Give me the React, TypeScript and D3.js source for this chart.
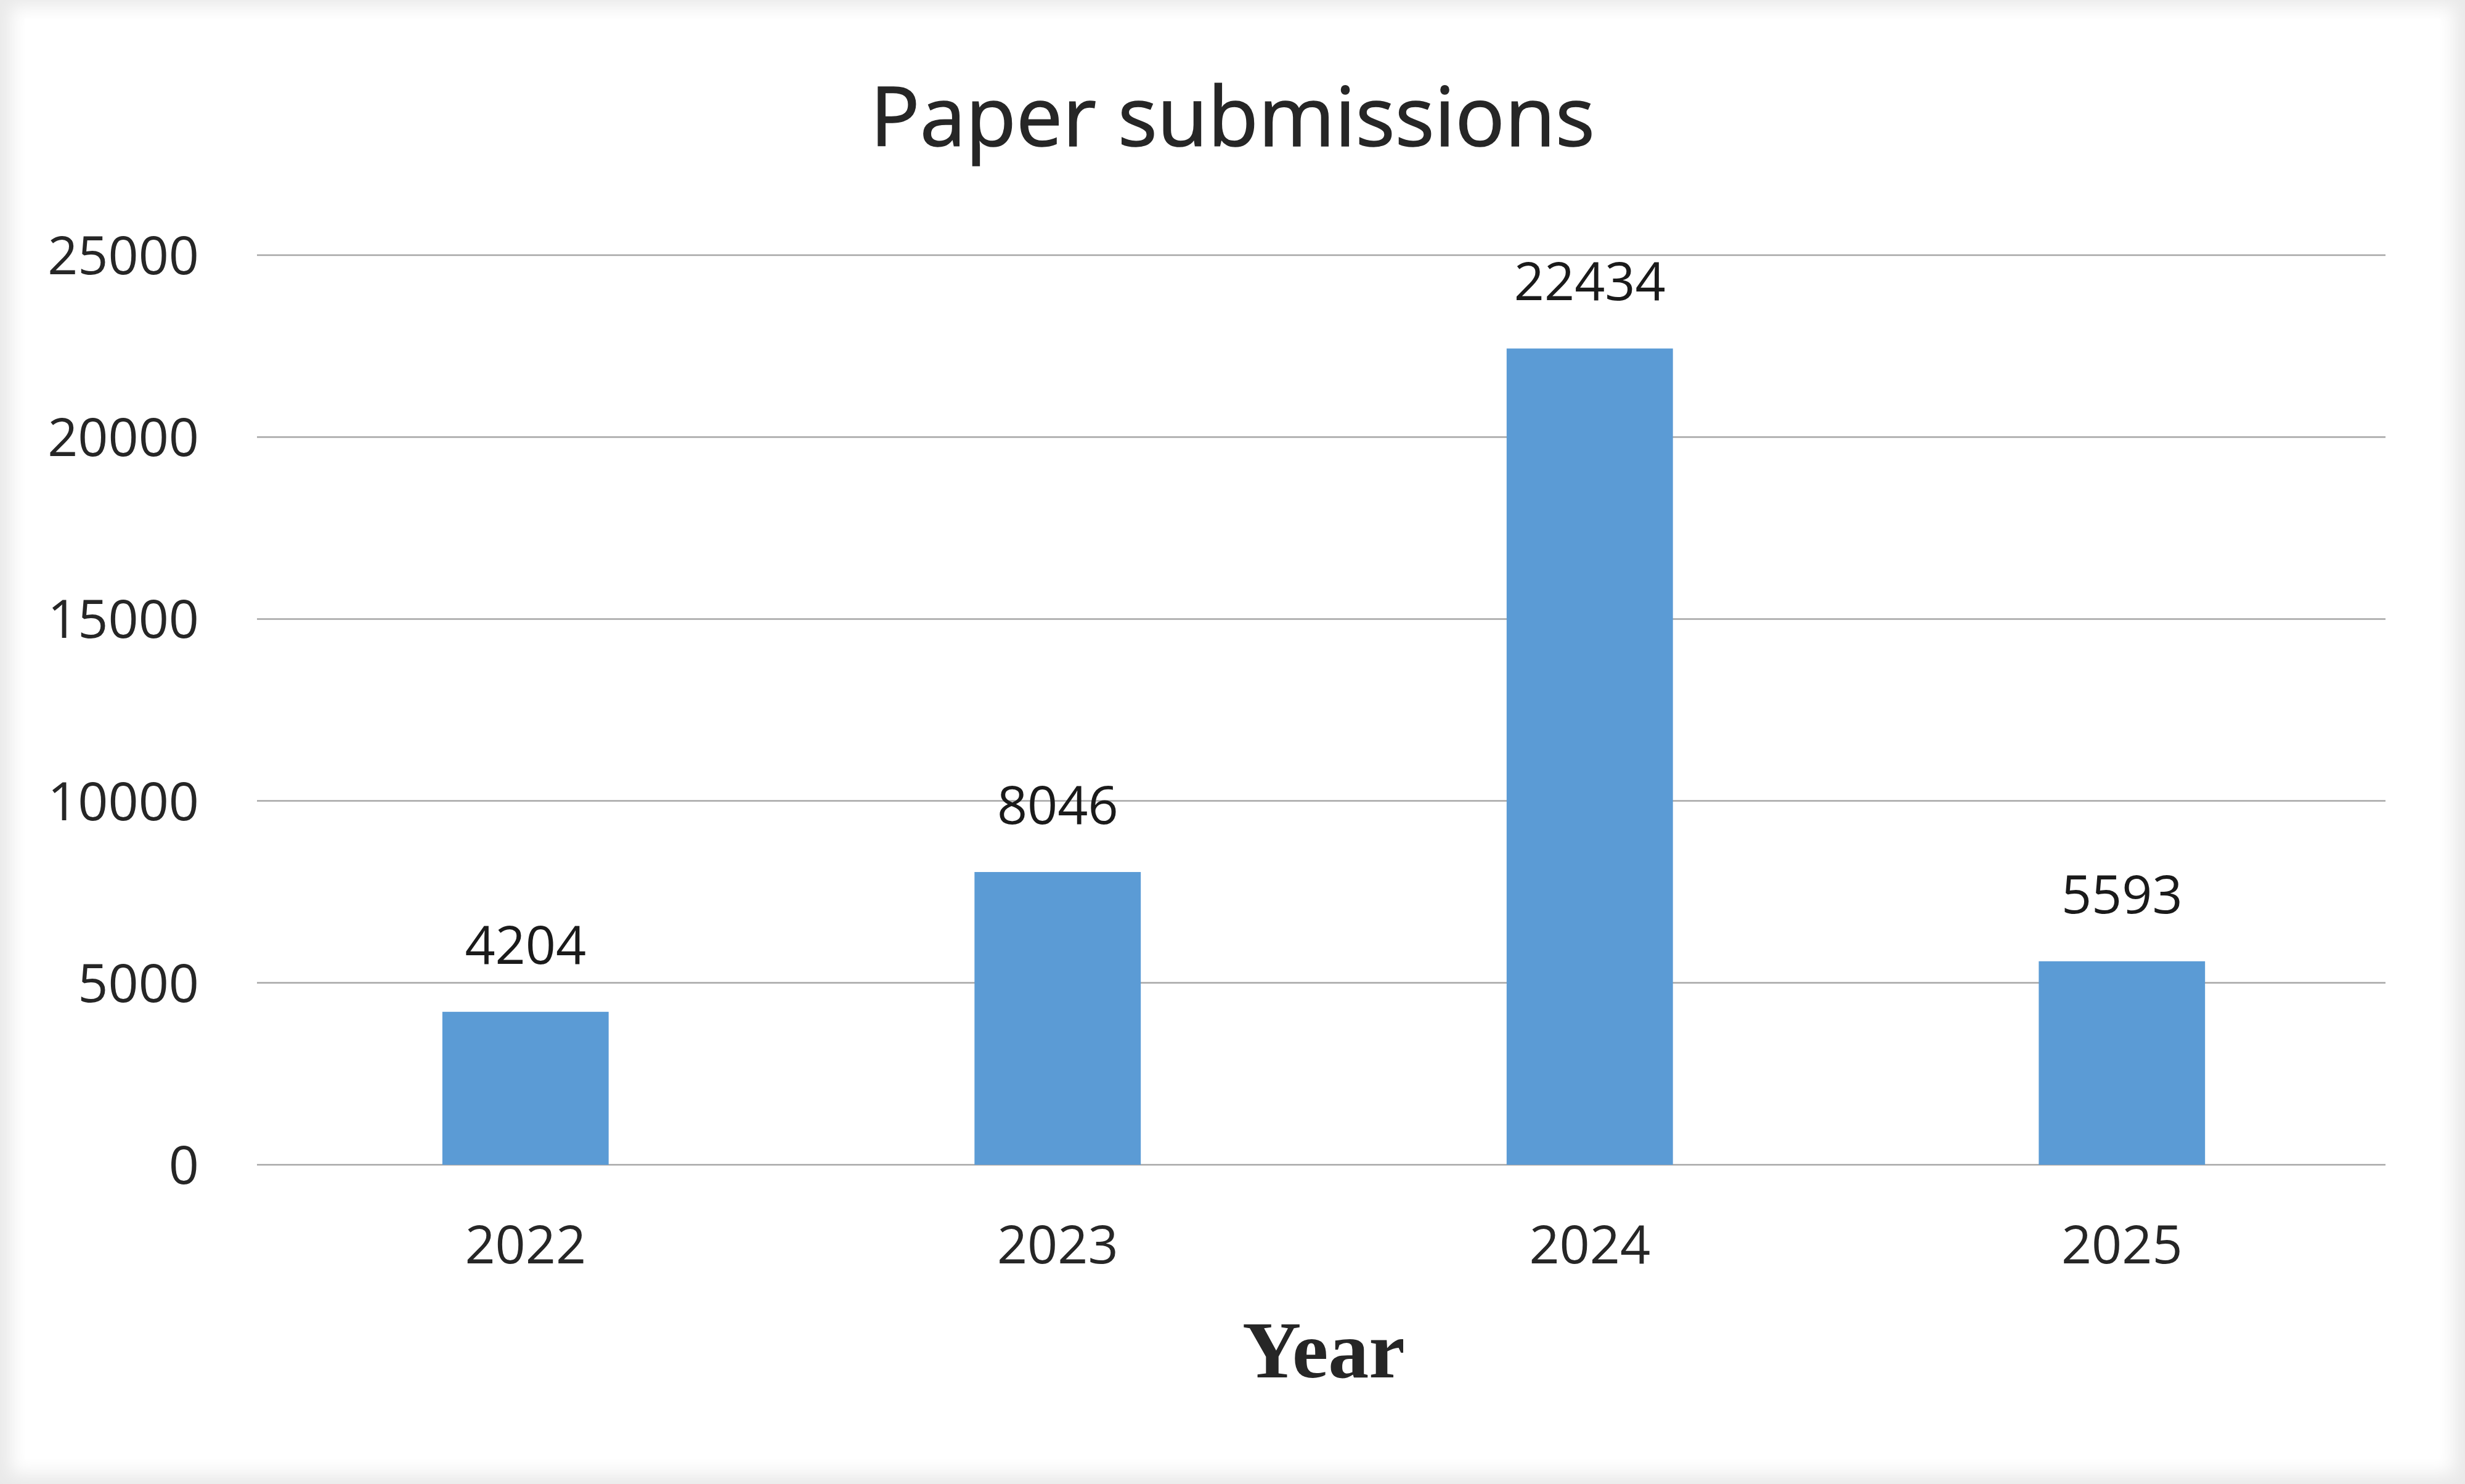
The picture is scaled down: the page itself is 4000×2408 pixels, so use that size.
import React, { useEffect } from "react";
import * as d3 from "d3";

const categories = ["2022", "2023", "2024", "2025"];
const submissions = [4204, 8046, 22434, 5593];
const yTicks = [0, 5000, 10000, 15000, 20000, 25000];
const titleText = "Paper submissions";
const xAxisTitle = "Year";

const W = 4000;
const H = 2408;
const left = 417;
const right = 3871;
const top = 414;
const bottom = 1890;
const barShift = 4;

export default function App() {
  useEffect(() => {
    document.body.style.margin = "0";
  }, []);

  const x = d3
    .scaleBand<string>()
    .domain(categories)
    .range([left + barShift, right + barShift])
    .paddingInner(0.6875)
    .paddingOuter(0.34375);
  const y = d3.scaleLinear().domain([0, 25000]).range([bottom, top]);
  const font = "'Open Sans', 'Noto Sans', sans-serif";

  return (
    <svg width={W} height={H} viewBox={`0 0 ${W} ${H}`} style={{ display: "block" }}>
      <defs>
        <filter id="edge" x="-5%" y="-5%" width="110%" height="110%">
          <feGaussianBlur stdDeviation="14" />
        </filter>
      </defs>
      <rect x={0} y={0} width={W} height={H} fill="#e9e9e9" />
      <rect x={18} y={10} width={W - 36} height={H - 26} fill="#ffffff" filter="url(#edge)" />
      <rect x={40} y={30} width={W - 80} height={H - 70} fill="#ffffff" />

      <text
        x={(left + right) / 2 - 144}
        y={237}
        textAnchor="middle"
        fontFamily={font}
        fontSize={134}
        fontWeight={500}
        fill="#262626"
        stroke="#262626"
        strokeWidth={1.5}
      >
        {titleText}
      </text>

      {yTicks.map((t) => (
        <g key={t}>
          <line x1={left} x2={right} y1={y(t)} y2={y(t)} stroke="#a6a6a6" strokeWidth={2.5} />
          <text
            x={323}
            y={y(t)}
            dy="0.36em"
            textAnchor="end"
            fontFamily={font}
            fontSize={86}
            fill="#262626"
          >
            {t}
          </text>
        </g>
      ))}

      {categories.map((c, i) => {
        const v = submissions[i];
        const bx = x(c) as number;
        return (
          <g key={c}>
            <rect x={bx} y={y(v)} width={x.bandwidth()} height={y(0) - y(v)} fill="#5b9bd5" />
            <text
              x={bx + x.bandwidth() / 2}
              y={y(v) - 78}
              textAnchor="middle"
              fontFamily={font}
              fontSize={86}
              fill="#1a1a1a"
            >
              {v}
            </text>
            <text
              x={bx + x.bandwidth() / 2}
              y={2050}
              textAnchor="middle"
              fontFamily={font}
              fontSize={86}
              fill="#262626"
            >
              {c}
            </text>
          </g>
        );
      })}

      <text
        x={(left + right) / 2 + 4}
        y={2235}
        textAnchor="middle"
        fontFamily="'Liberation Serif', 'DejaVu Serif', serif"
        fontWeight="bold"
        fontSize={132}
        fill="#262626"
      >
        {xAxisTitle}
      </text>
    </svg>
  );
}
